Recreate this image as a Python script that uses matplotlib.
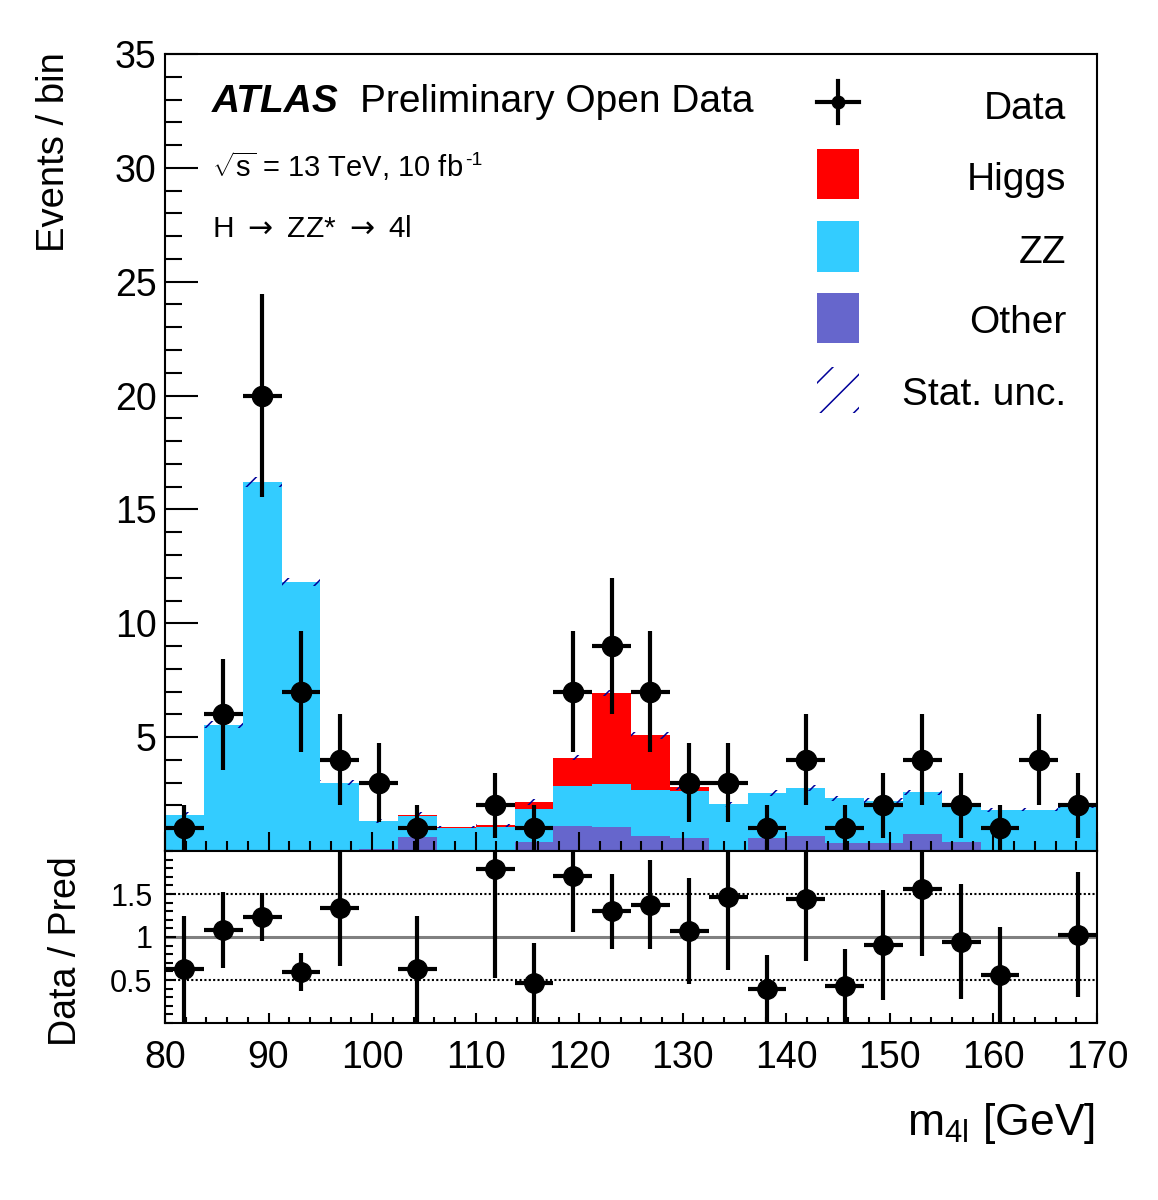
import numpy as np
import matplotlib
matplotlib.use("Agg")
import matplotlib.pyplot as plt
from matplotlib.ticker import MultipleLocator, FixedLocator
from matplotlib.patches import Rectangle
from matplotlib.lines import Line2D

plt.rcParams['font.family'] = ['Liberation Sans', 'DejaVu Sans']
plt.rcParams['mathtext.fontset'] = 'custom'
plt.rcParams['mathtext.rm'] = 'Liberation Sans'
plt.rcParams['mathtext.it'] = 'Liberation Sans:italic'
plt.rcParams['mathtext.bf'] = 'Liberation Sans:bold'
plt.rcParams['hatch.linewidth'] = 1.1

# ---------------- data ----------------
bin_edges = np.linspace(80, 170, 25)          # 24 bins of 3.75 GeV
data = np.array([1, 6, 20, 7, 4, 3, 1, 0, 2, 1, 7, 9, 7, 3, 3, 1, 4, 1, 2, 4, 2, 1, 4, 2], dtype=float)
other = np.array([0.0, 0.0, 0.0, 0.0, 0.0, 0.10, 0.63, 0.0, 0.0, 0.38, 1.11, 1.04,
                  0.64, 0.58, 0.03, 0.56, 0.64, 0.35, 0.35, 0.73, 0.41, 0.02, 0.02, 0.02])
zz = np.array([1.60, 5.55, 16.2, 11.8, 3.00, 1.21, 0.92, 1.00, 1.06, 1.47, 1.76, 1.90,
               2.05, 2.07, 2.02, 1.98, 2.13, 1.96, 1.86, 1.84, 1.71, 1.77, 1.80, 1.93])
higgs = np.array([0.0, 0.0, 0.0, 0.0, 0.0, 0.02, 0.05, 0.05, 0.06, 0.30, 1.23, 4.00,
                  2.40, 0.15, 0.0, 0.0, 0.0, 0.0, 0.0, 0.0, 0.0, 0.0, 0.0, 0.0])
stat_unc = np.array([0.10, 0.15, 0.22, 0.18, 0.12, 0.08, 0.10, 0.06, 0.07, 0.12, 0.12, 0.15,
                     0.15, 0.10, 0.10, 0.12, 0.12, 0.10, 0.10, 0.12, 0.10, 0.08, 0.08, 0.08])
labels = ['Data', 'Higgs', 'ZZ', 'Other', 'Stat. unc.']

C_HIGGS = '#ff0000'
C_ZZ = '#33ccff'
C_OTHER = '#6666cc'
C_HATCH = '#000099'

W, H = 1158, 1200
fig = plt.figure(figsize=(W / 100, H / 100), dpi=100)

def fx(x):
    return x / W

def fy(y):
    return 1 - y / H

L, R = 165, 1097
ax = fig.add_axes([fx(L), fy(851), (R - L) / W, (851 - 54) / H])
axr = fig.add_axes([fx(L), fy(1023), (R - L) / W, (1023 - 851) / H])

left = bin_edges[:-1]
width = np.diff(bin_edges)
centers = 0.5 * (bin_edges[:-1] + bin_edges[1:])
total = other + zz + higgs

ax.bar(left, other, width=width, align='edge', color=C_OTHER, linewidth=0)
ax.bar(left, zz, bottom=other, width=width, align='edge', color=C_ZZ, linewidth=0)
ax.bar(left, higgs, bottom=other + zz, width=width, align='edge', color=C_HIGGS, linewidth=0)
ax.bar(left, 2 * stat_unc, bottom=total - stat_unc, width=width, align='edge',
       fill=False, hatch='/', edgecolor=C_HATCH, linewidth=0)

m = data > 0
ax.errorbar(centers[m], data[m], xerr=width[m] / 2, yerr=np.sqrt(data[m]), fmt='o',
            color='black', ms=14.5, elinewidth=3, capsize=0, zorder=5)

ax.set_xlim(80, 170)
ax.set_ylim(0, 35)
ax.yaxis.set_major_locator(FixedLocator([5, 10, 15, 20, 25, 30, 35]))
ax.yaxis.set_minor_locator(MultipleLocator(1))
ax.xaxis.set_major_locator(MultipleLocator(10))
ax.xaxis.set_minor_locator(MultipleLocator(2))
ax.tick_params(axis='both', which='both', direction='in', top=False, right=False,
               width=1.5, labelsize=27)
ax.tick_params(axis='y', which='major', length=24, pad=6)
ax.tick_params(axis='y', which='minor', length=12)
ax.tick_params(axis='x', which='major', length=14, labelbottom=False)
ax.tick_params(axis='x', which='minor', length=7)
for s in ax.spines.values():
    s.set_linewidth(1.5)

# ratio panel
ratio = np.where(total > 0, data / total, 0)
rerr = np.sqrt(data) / total
mr = (data > 0) & (ratio <= 2)
axr.axhline(1, color='#808080', lw=2.2, zorder=1)
axr.axhline(0.5, color='black', lw=1.5, ls=(0, (1, 1.1)), zorder=1)
axr.axhline(1.5, color='black', lw=1.5, ls=(0, (1, 1.1)), zorder=1)
axr.errorbar(centers[mr], ratio[mr], xerr=width[mr] / 2, yerr=rerr[mr], fmt='o',
             color='black', ms=14, elinewidth=3, capsize=0, zorder=5)
axr.set_xlim(80, 170)
axr.set_ylim(0, 2)
axr.yaxis.set_major_locator(FixedLocator([0.5, 1, 1.5]))
axr.set_yticklabels(['0.5', '1', '1.5'])
axr.yaxis.set_minor_locator(MultipleLocator(0.1))
axr.xaxis.set_major_locator(MultipleLocator(10))
axr.xaxis.set_minor_locator(MultipleLocator(2))
axr.tick_params(axis='both', which='both', direction='in', top=False, right=False, width=1.5)
axr.tick_params(axis='y', which='major', length=8, labelsize=22, pad=9)
axr.tick_params(axis='y', which='minor', length=6)
axr.tick_params(axis='x', which='major', length=7, labelsize=27, pad=12)
axr.tick_params(axis='x', which='minor', length=4)
for s in axr.spines.values():
    s.set_linewidth(1.5)

# axis titles
fig.text(fx(54), fy(52), 'Events / bin', rotation=90, ha='center', va='top', fontsize=27.5)
fig.text(fx(66), fy(951), 'Data / Pred', rotation=90, ha='center', va='center', fontsize=27)
fig.text(fx(1095), fy(1135), r'm$_{\mathrm{4l}}$ [GeV]', ha='right', va='baseline', fontsize=32)

# ATLAS labels
fig.text(fx(212), fy(112), 'ATLAS', fontsize=28, fontweight='bold', fontstyle='italic',
         ha='left', va='baseline')
fig.text(fx(360), fy(112), 'Preliminary Open Data', fontsize=28, ha='left', va='baseline')
t_lumi = fig.text(fx(212), fy(177), r'$\sqrt{\mathrm{s}}$ = 13 TeV, 10 fb', fontsize=21,
                  ha='left', va='baseline')
fig.text(fx(212), fy(237), r'H $\rightarrow$ ZZ* $\rightarrow$ 4l', fontsize=21.5,
         ha='left', va='baseline', math_fontfamily='dejavusans')

fig.canvas.draw()
bb = t_lumi.get_window_extent(renderer=fig.canvas.get_renderer())
fig.text((bb.x1 + 2) / W, fy(177 - 12), '-1', fontsize=14, ha='left', va='baseline')

# legend (manual, ROOT style with right-aligned labels)
def ax_pt(x, y):
    return ((x - L) / (R - L), (851 - y) / (851 - 54))

def add_box(y0, y1, **kw):
    x0, yy0 = ax_pt(817, y1)
    x1, yy1 = ax_pt(859, y0)
    ax.add_patch(Rectangle((x0, yy0), x1 - x0, yy1 - yy0, transform=ax.transAxes,
                           clip_on=False, **kw))

add_box(149, 199, facecolor=C_HIGGS, linewidth=0)
add_box(221, 272, facecolor=C_ZZ, linewidth=0)
add_box(293, 343, facecolor=C_OTHER, linewidth=0)
add_box(367, 413, fill=False, hatch='/', edgecolor=C_HATCH, linewidth=0)

xa, ya = ax_pt(817, 102)
xb, _ = ax_pt(859, 102)
xc, yc1 = ax_pt(838, 81)
_, yc2 = ax_pt(838, 123)
ax.add_line(Line2D([xa, xb], [ya, ya], color='black', lw=3, transform=ax.transAxes, clip_on=False))
ax.add_line(Line2D([xc, xc], [yc1, yc2], color='black', lw=3, transform=ax.transAxes, clip_on=False))
ax.add_line(Line2D([xc], [ya], marker='o', ms=9, color='black', transform=ax.transAxes, clip_on=False))

for lab, yb in zip(labels, [119, 190, 263, 333, 405]):
    tx, ty = ax_pt(1066, yb)
    ax.text(tx, ty, lab, transform=ax.transAxes, ha='right', va='baseline', fontsize=28)

fig.savefig('out.png', dpi=100)
